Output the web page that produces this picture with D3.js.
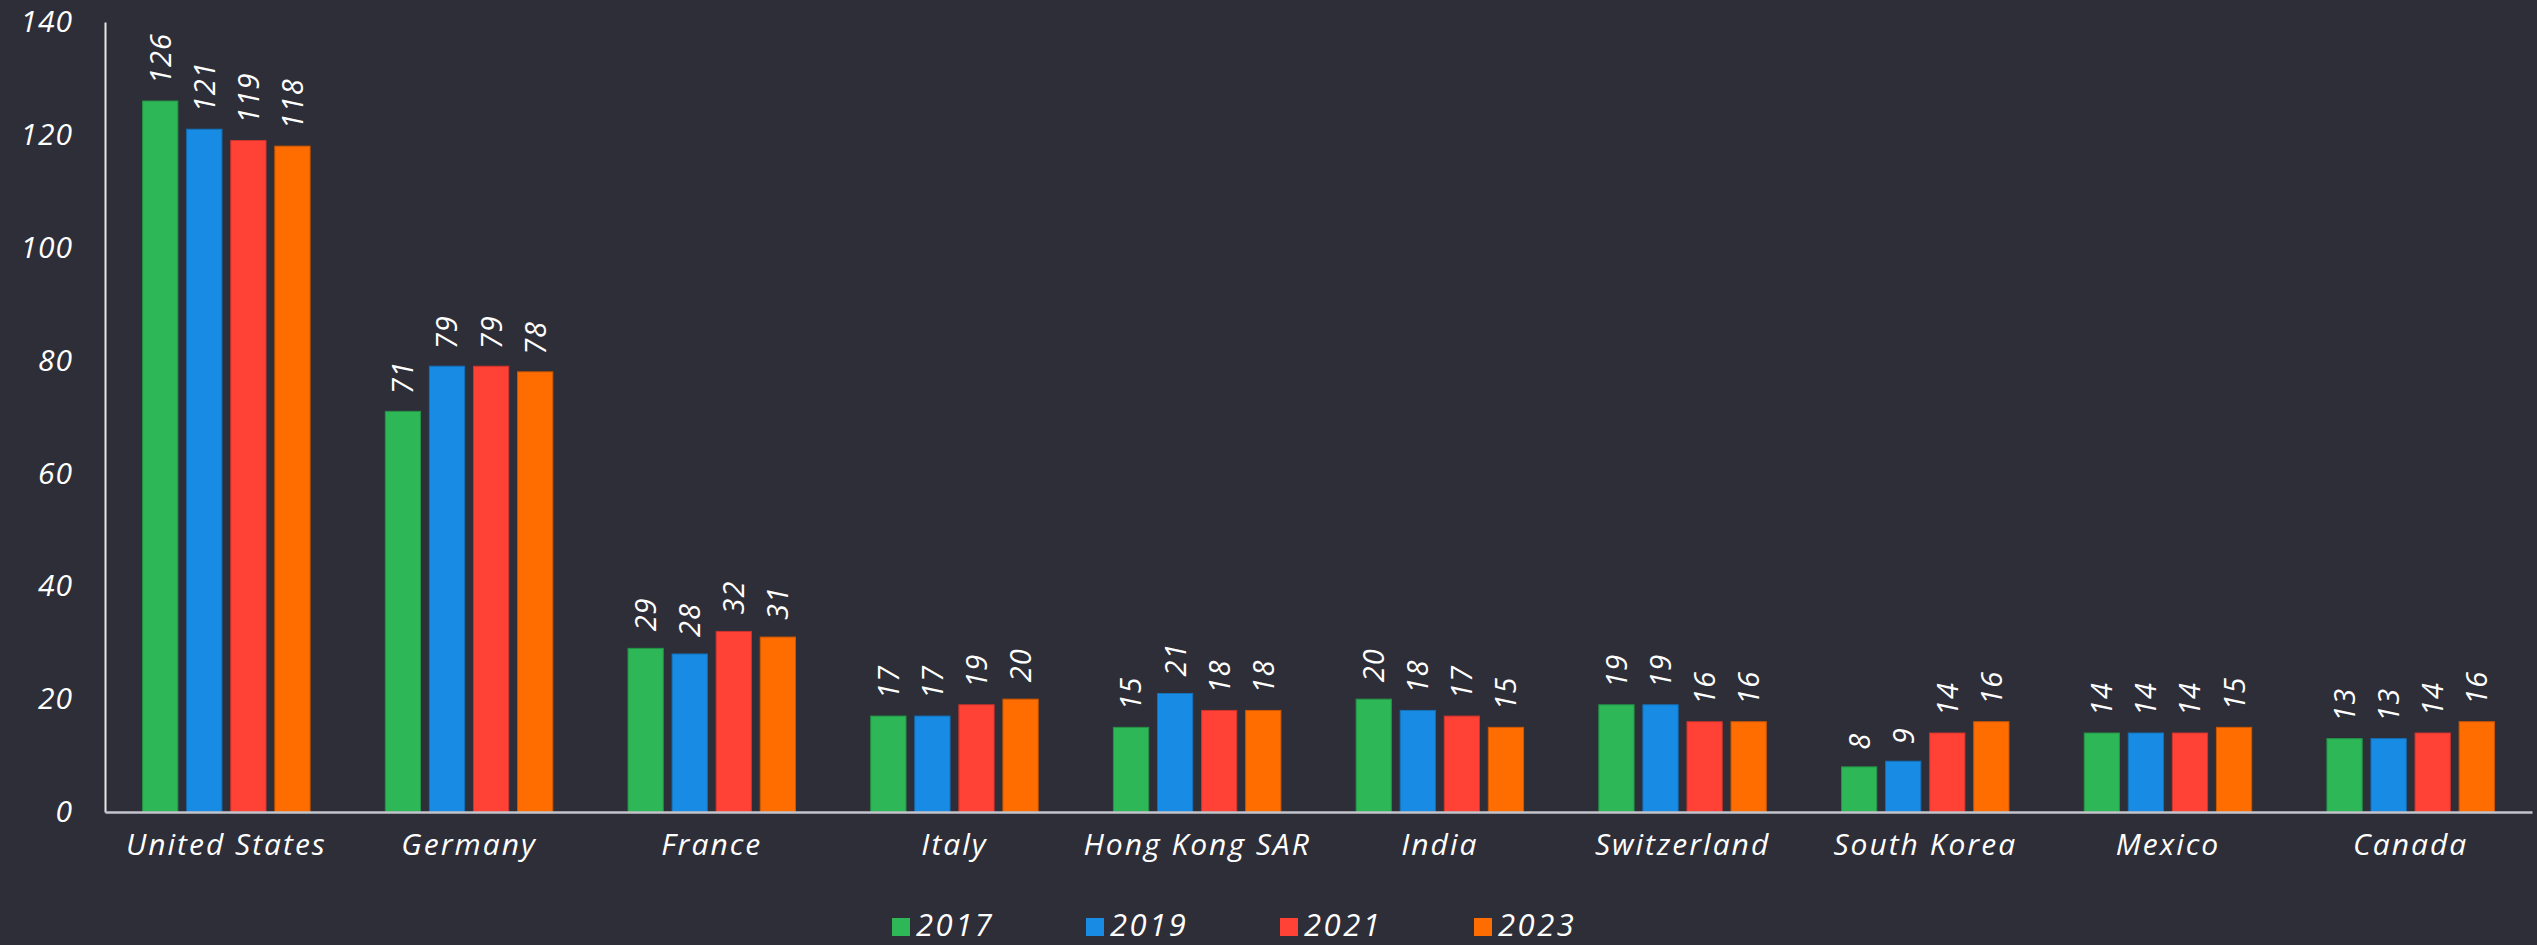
<!DOCTYPE html>
<html>
<head>
<meta charset="utf-8">
<script src="https://cdn.jsdelivr.net/npm/d3@7"></script>
<style>
  html, body { margin: 0; padding: 0; background: #2e2e38; }
  svg { display: block; font-family: "Open Sans", sans-serif; font-style: italic; }
</style>
</head>
<body>
<svg id="chart"></svg>
<script>
const width = 2537;
const height = 945;

// data
const countries = ["United States", "Germany", "France", "Italy", "Hong Kong SAR", "India", "Switzerland", "South Korea", "Mexico", "Canada"];
const years = ["2017", "2019", "2021", "2023"];
const v2017 = [126, 71, 29, 17, 15, 20, 19, 8, 14, 13];
const v2019 = [121, 79, 28, 17, 21, 18, 19, 9, 14, 13];
const v2021 = [119, 79, 32, 19, 18, 17, 16, 14, 14, 14];
const v2023 = [118, 78, 31, 20, 18, 15, 16, 16, 15, 16];
const yTicks = [0, 20, 40, 60, 80, 100, 120, 140];
const colors = ["#2db757", "#188ce5", "#ff4136", "#ff6d00"];

const series = [v2017, v2019, v2021, v2023];
const rows = countries.map((c, i) => ({
  country: c,
  values: years.map((y, j) => ({ year: y, value: series[j][i] })),
}));

const margin = { left: 105, right: 5, top: 22, bottom: 133 };

const svg = d3.select("#chart").attr("width", width).attr("height", height);

svg.append("rect").attr("width", width).attr("height", height).attr("fill", "#2e2e38");

const x0 = d3
  .scaleBand()
  .domain(countries)
  .range([margin.left, width - margin.right])
  .paddingInner(0.31)
  .paddingOuter(0.155);

const x1 = d3
  .scaleBand()
  .domain(years)
  .range([0, x0.bandwidth()])
  .paddingInner(0.2);

const y = d3
  .scaleLinear()
  .domain([0, 140])
  .range([height - margin.bottom, margin.top]);

const color = d3.scaleOrdinal().domain(years).range(colors);

// bars
const groups = svg
  .append("g")
  .selectAll("g")
  .data(rows)
  .join("g")
  .attr("transform", (d) => `translate(${x0(d.country)},0)`);

groups
  .selectAll("rect")
  .data((d) => d.values)
  .join("rect")
  .attr("x", (d) => x1(d.year))
  .attr("y", (d) => y(d.value))
  .attr("width", x1.bandwidth())
  .attr("height", (d) => y(0) - y(d.value))
  .attr("fill", (d) => color(d.year))
  .attr("stroke", (d) => d3.color(color(d.year)).darker(0.6))
  .attr("stroke-width", 1);

// value labels, rotated
groups
  .selectAll("text")
  .data((d) => d.values)
  .join("text")
  .attr("transform", (d) => `translate(${x1(d.year) + x1.bandwidth() / 2},${y(d.value) - 17}) rotate(-90)`)
  .attr("dy", "0.36em")
  .attr("fill", "#fff")
  .style("font-size", "29px")
  .style("letter-spacing", "1px")
  .text((d) => d.value);

// y axis
const yAxis = svg
  .append("g")
  .attr("transform", `translate(${margin.left},0)`)
  .call(d3.axisLeft(y).tickValues(yTicks).tickSize(0).tickPadding(32));

yAxis.select(".domain").attr("stroke", "#e6e6e6").attr("stroke-width", 2);
yAxis
  .selectAll("text")
  .attr("fill", "#fff")
  .style("font-family", "'Open Sans', sans-serif")
  .style("font-style", "italic")
  .style("font-size", "30px")
  .style("letter-spacing", "1px");

// x axis
const xAxis = svg
  .append("g")
  .attr("transform", `translate(0,${y(0)})`)
  .call(d3.axisBottom(x0).tickSize(0).tickPadding(22));

xAxis.select(".domain").attr("stroke", "#c4c4cd").attr("stroke-width", 2.5);
xAxis
  .selectAll("text")
  .attr("fill", "#fff")
  .style("font-family", "'Open Sans', sans-serif")
  .style("font-style", "italic")
  .style("font-size", "30px")
  .style("letter-spacing", "2px");

// legend
const legend = svg
  .append("g")
  .attr("transform", "translate(892,918)")
  .selectAll("g")
  .data(years)
  .join("g")
  .attr("transform", (d, i) => `translate(${i * 194},0)`);

legend
  .append("rect")
  .attr("width", 18)
  .attr("height", 18)
  .attr("fill", (d) => color(d));

legend
  .append("text")
  .attr("x", 24)
  .attr("y", 18)
  .attr("fill", "#fff")
  .style("font-size", "31px")
  .style("letter-spacing", "2.5px")
  .text((d) => d);
</script>
</body>
</html>
